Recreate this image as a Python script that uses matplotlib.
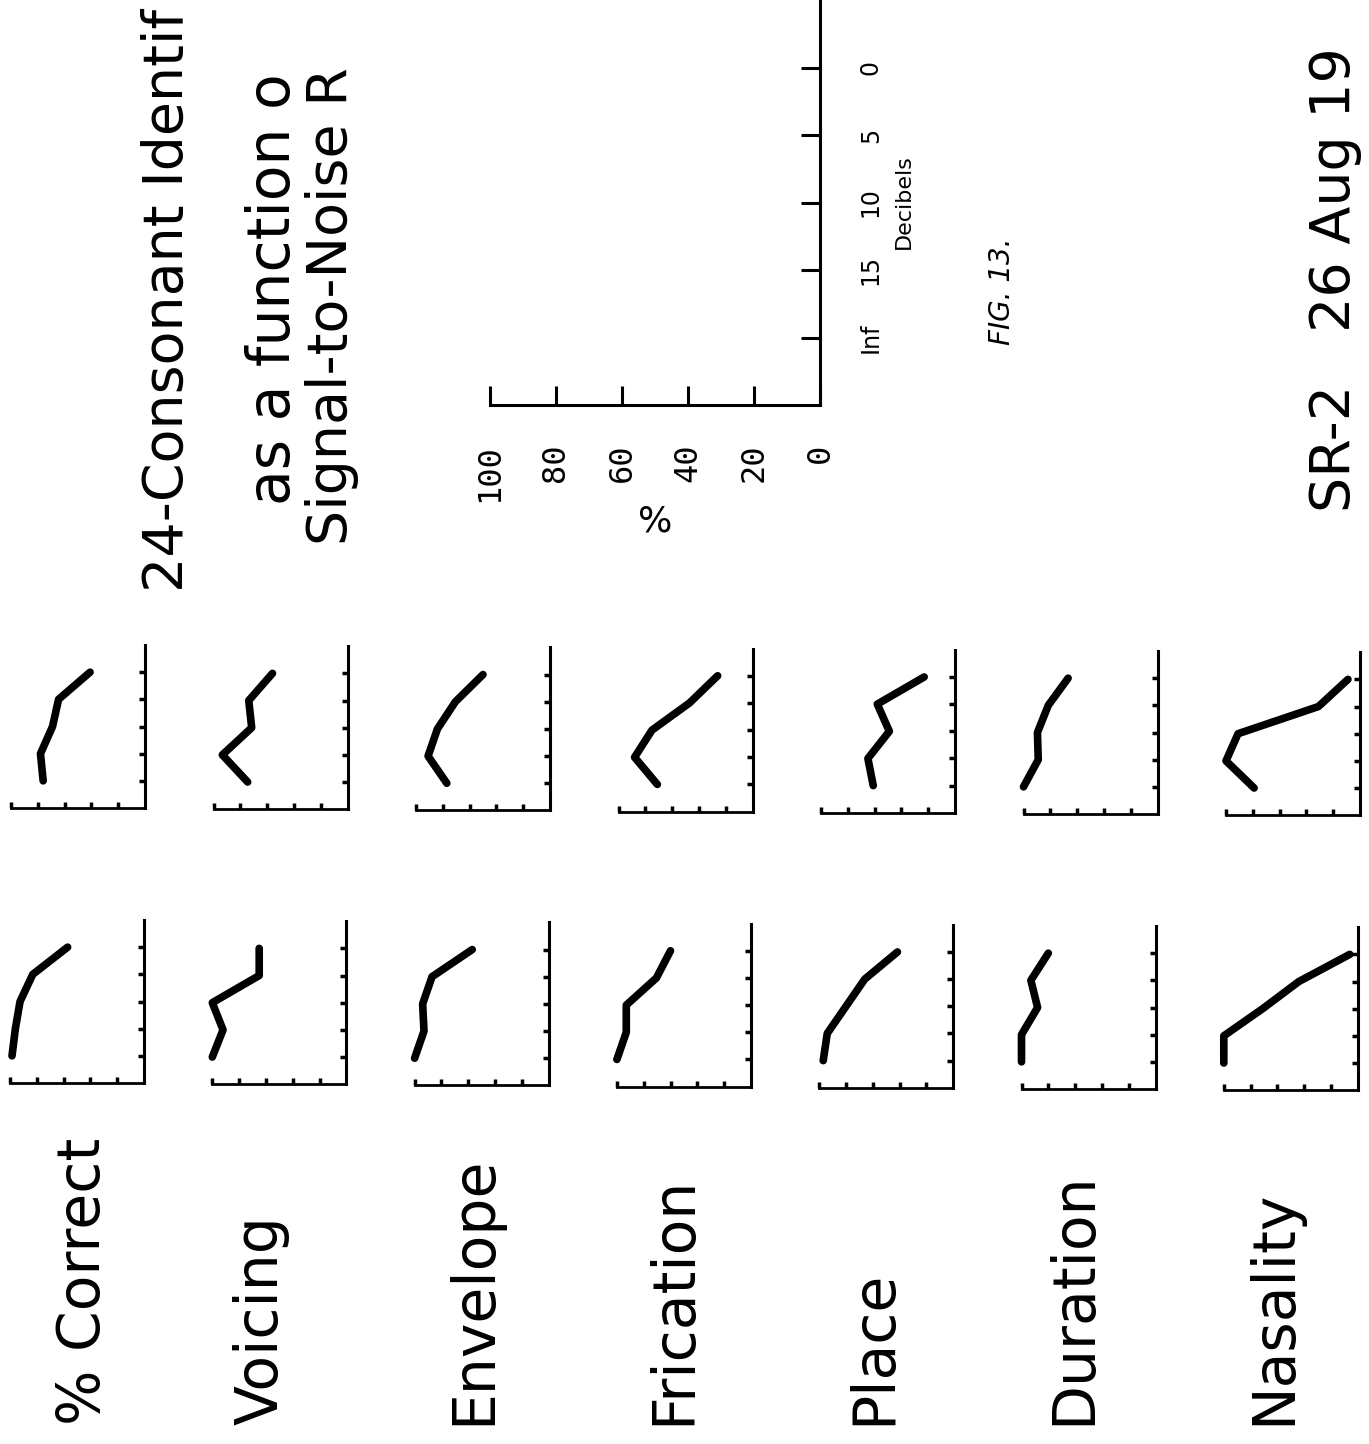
import matplotlib
matplotlib.use("Agg")
from matplotlib import pyplot as plt

W, H = 1369, 1444

features = ["% Correct", "Voicing", "Envelope", "Frication", "Place", "Duration", "Nasality"]
db_labels = ["Inf", "15", "10", "5", "0"]
db_pos = [1, 2, 3, 4, 5]
pct_ticks = [100, 80, 60, 40, 20, 0]

# percent identified at Inf, 15, 10, 5, 0 dB -- first condition
correct_1 = [98.5, 96, 92.5, 83, 57]
voicing_1 = [100, 92, 100, 65, 65]
envelope_1 = [100, 93, 94, 87, 57]
frication_1 = [100, 93, 93, 70.5, 60]
place_1 = [97, 94, 80, 66, 41.6]
duration_1 = [100, 100, 88, 93, 80]
nasality_1 = [100, 100, 71, 44, 6]

# second condition
correct_2 = [76, 78, 69, 64.5, 41]
voicing_2 = [74.5, 93.4, 71.5, 73.7, 56]
envelope_2 = [77, 91, 84, 70.6, 50]
frication_2 = [71, 88, 75, 47, 26]
place_2 = [61, 65, 49, 58, 23]
duration_2 = [100, 89, 89.6, 81.5, 66.7]
nasality_2 = [79, 100, 91, 31, 9]

set_1 = [correct_1, voicing_1, envelope_1, frication_1, place_1, duration_1, nasality_1]
set_2 = [correct_2, voicing_2, envelope_2, frication_2, place_2, duration_2, nasality_2]

fig = plt.figure(figsize=(W/100, H/100), dpi=100)
fig.patch.set_facecolor("white")

def px_axes(x0, y0, x1, y1):
    return fig.add_axes([x0/W, 1 - y1/H, (x1 - x0)/W, (y1 - y0)/H])

def ptext(x, y, s, size, **kw):
    kw.setdefault("rotation", 90)
    kw.setdefault("rotation_mode", "anchor")
    kw.setdefault("ha", "left")
    kw.setdefault("va", "baseline")
    fig.text(x/W, 1 - y/H, s, fontsize=size, color="black", **kw)

def small_plot(ax, vals):
    ax.plot(vals, db_pos, color="black", lw=5.5, solid_capstyle="round",
            solid_joinstyle="round", clip_on=False)
    ax.set_xlim(100, 0)
    ax.set_ylim(0, 6)
    ax.spines["top"].set_visible(False)
    ax.spines["left"].set_visible(False)
    ax.spines["right"].set_linewidth(2.2)
    ax.spines["bottom"].set_linewidth(2.0)
    ax.yaxis.tick_right()
    ax.set_yticks(db_pos)
    ax.set_xticks([100, 80, 60, 40, 20])
    ax.tick_params(direction="in", length=4, width=2.5, labelleft=False,
                   labelright=False, labelbottom=False)
    ax.patch.set_alpha(0)

# the small panels, one row per feature
for i in range(len(features)):
    xa = 145 + 202.5*i
    yb = 808 + 1.2*i
    ax = px_axes(xa - 134, yb - 163, xa, yb)
    small_plot(ax, set_2[i])
    xa = 144 + 202.3*i
    yb = 1083 + 1.2*i
    ax = px_axes(xa - 134, yb - 163, xa, yb)
    small_plot(ax, set_1[i])

label_base = [100, 278, 490, 690, 890, 1090, 1290]
for name, xb in zip(features, label_base):
    ptext(xb, 1425, name, 42)

# title block (runs off the sheet at the top)
ptext(183, 592, "24-Consonant Identif", 40)
ptext(290, 505, "as a function o", 42)
ptext(347, 545, "Signal-to-Noise R", 40)

# key axes
key = px_axes(490, -2, 820, 405)
key.set_xlim(100, 0)
key.set_ylim(0, 6.03)
key.spines["top"].set_visible(False)
key.spines["left"].set_visible(False)
key.spines["right"].set_linewidth(2.2)
key.spines["bottom"].set_linewidth(2.2)
key.yaxis.tick_right()
key.yaxis.set_label_position("right")
key.set_xticks(pct_ticks)
key.set_xticklabels([str(v) for v in pct_ticks], rotation=90, fontsize=23, family="DejaVu Sans Mono")
key.set_yticks(db_pos)
key.set_yticklabels(db_labels, rotation=90, fontsize=17, va="center")
key.tick_params(axis="x", direction="in", length=14, width=2.2, pad=28)
key.tick_params(axis="y", direction="in", length=14, width=2.2, pad=28)
key.set_xlabel("%", fontsize=26, labelpad=2)
key.set_ylabel("Decibels", fontsize=16, rotation=90, labelpad=8)
key.patch.set_alpha(0)

ptext(1010, 345, "FIG. 13.", 20, style="italic")
ptext(1350, 512, "SR-2   26 Aug 19", 40)

fig.savefig("out.png", dpi=100, facecolor="white")
